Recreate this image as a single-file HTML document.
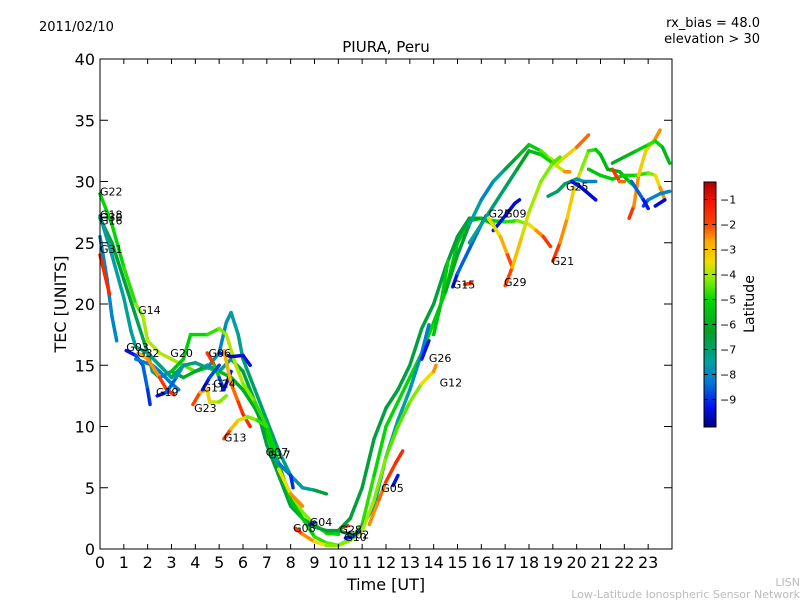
<!DOCTYPE html>
<html><head><meta charset="utf-8"><style>
body{margin:0;background:#fff;}
svg{display:block;font-family:"DejaVu Sans","Liberation Sans",sans-serif;}
</style></head><body>
<svg id="chart" width="800" height="600">
<text x="39" y="31" font-size="13">2011/02/10</text>
<text x="760" y="27" font-size="13" text-anchor="end">rx_bias = 48.0</text>
<text x="760" y="43" font-size="13" text-anchor="end">elevation &gt; 30</text>
<text x="386" y="52" font-size="15" text-anchor="middle">PIURA, Peru</text>
<text x="386" y="590" font-size="16" text-anchor="middle">Time [UT]</text>
<text x="66" y="304" font-size="16" text-anchor="middle" transform="rotate(-90 66 304)">TEC [UNITS]</text>
<text x="800" y="586" font-size="11" fill="#bbb" text-anchor="end">LISN</text>
<text x="800" y="598" font-size="11" fill="#bbb" text-anchor="end">Low-Latitude Ionospheric Sensor Network</text>
<defs><linearGradient id="cmap" x1="0" y1="1" x2="0" y2="0"></linearGradient></defs>
<g id="plot"></g>
<rect x="100" y="59" width="572" height="490" fill="none" stroke="#000" stroke-width="1"/>
<g id="axes"></g>
<rect x="704" y="182" width="12" height="245" fill="url(#cmap)" stroke="#000" stroke-width="1"/>
<g id="cbar"></g>
<text x="754" y="304" font-size="14" text-anchor="middle" transform="rotate(-90 754 304)">Latitude</text>
</svg>
<script>
const xTicks=[0,1,2,3,4,5,6,7,8,9,10,11,12,13,14,15,16,17,18,19,20,21,22,23];
const yTicks=[0,5,10,15,20,25,30,35,40];
const cbTicks=[-1,-2,-3,-4,-5,-6,-7,-8,-9];
const latMin=-10.1, latMax=-0.3;
const cmapLat=[-10.1,-9.3,-8.3,-7.5,-6.3,-5.0,-4.2,-3.5,-2.7,-2.0,-1.0,-0.3];
const cmapCol=['#000080','#0010ee','#0078d8','#00a0a0','#00a028','#00d800','#88ee00','#eedd00','#ffaa00','#ff4400','#ee1100','#aa0000'];
// each track: times (UT hr), TEC values, latitude values
const trackTimes=[
[0,0.5,1,1.5,1.8,2,2.5,3,3.5,4,4.5,5,5.5,6,6.5,7,7.5,8,8.5,9,9.5,10],
[0,0.5,1,1.5,2,2.2,2.5,3,3.5,4,4.5,5,5.5,6,6.5,7,7.5,8,8.5,9,9.5,10,10.5],
[0,0.5,1,1.3,1.5,2,2.5,3,3.5,4,4.5,5,5.3,5.5,5.8,6,6.5,7,7.5,8,8.5,9,9.5],
[3,3.5,3.8,4.5,5,5.3,5.7,6,6.5,7,7.5,8,8.5,9,9.5,10,10.5,11,11.5,12,12.5,13,13.5,14,14.5,15,15.5,16,16.5,17,17.5,18,18.3,18.6,18.9],
[0,0.3,0.5,0.7],
[0,0.4],
[1.1,1.5,1.8,2,2.1],
[1.5,2.2,2.5,3,3.3],
[1.6,2,2.5,2.8,3.1],
[2.4,2.8,3.2,3.5],
[4.5,4.8,5,5.2,5.5],
[5,5.5,6,6.3],
[3.9,4.2,4.5,4.6,5,5.3],
[4.3,4.6,5],
[5.2,5.5,5.8,6,6.3],
[5.2,5.5,5.8,6.2,6.6,7],
[7.3,7.5,8,8.1],
[7.5,8,8.5],
[8.2,8.5,9,9.5,10,10.5,11],
[8.8,9],
[10.1,10.4],
[10.3,10.6,10.9,11.5,12,12.5,13,13.5,13.8],
[11.3,11.7,12,12.4,12.7],
[12.3,12.5],
[13.5,13.8],
[10,10.5,11,11.5,12,12.5,13,13.5,14,14.5,15,15.5,16,16.5],
[11,11.5,12,12.5,13,13.5,14,14.1],
[14,14.3,14.6],
[14.8,15,15.5,16,16.2],
[16.5,17,17.4,17.6],
[15.3,15.6],
[14.5,15,15.5,16,16.5,17,17.5,18,18.5,18.8,19.2,19.5,20,20.5],
[15.5,16,16.5,17,17.5,18,18.5,19,19.5,19.7],
[16.3,16.8,17.1,17.3],
[17,17.3,17.7,18,18.5,19,19.3],
[19,19.3,19.6,19.9,20.2,20.5,20.8,21,21.3,21.8,22.2,22.5],
[18.8,19.2,19.5,20,20.3,20.8],
[19.8,20.2,20.8],
[20.5,21,21.5,22,22.5,23,23.3,23.5,23.7],
[21.5,21.8,22],
[22.2,22.4,22.6,22.9,23.3,23.5],
[21.5,22,22.5,23,23.3,23.6,23.9],
[22.8,23,23.5,23.9],
[22.3,22.8,23],
[23.3,23.7]
];
const trackTec=[
[29,26.5,23,20,19,17,16,15.5,15,14.5,14.8,14.5,14,13,11.5,9.5,6.5,4.5,3,2,1.3,1.2],
[27,25,22,19,16,14.5,14,14.5,14,14.5,15,14.5,15.5,14.5,12,8.5,6,3.5,2.5,1.8,1.5,1.5,1.2],
[27.2,24,20.5,17.8,16.5,16,15,14,15,15.2,14.8,16,18.5,19.3,17.5,15.5,13,10.5,8,6,5,4.8,4.5],
[14.5,15.5,17.5,17.5,18,17.5,15,13.5,12,10,7,4,2.5,1,0.5,0.3,0.8,2,6,10,12,14,16,18.5,21,25,26.8,27,26.8,26.7,26.8,26.5,26,25.5,24.7],
[25.5,22,19,17],
[24,20.8],
[16.2,15.8,15,13,11.8],
[15.5,15,14.5,13.5,13],
[16,15.5,14,13,12.6],
[12.5,12.8,14,15],
[16,15,14,13,14.5],
[16,15.7,15.8,15],
[11.8,12.8,13,12,12,12.5],
[13,14,15],
[16.2,13.5,12,11,10],
[9,9.8,10.5,10.8,10.5,10],
[7.5,7,6,5],
[6.5,4.5,3.5],
[1.7,1.2,0.6,0.3,0.3,0.7,1.5],
[2,2.2],
[1.7,1.9],
[0.9,1,1.5,3.5,7.5,10.5,13,16,18.3],
[2,4,5.5,7,8],
[5.2,6],
[15.5,17],
[1.5,2.5,5,9,11.5,13,15,18,20,23,25.5,27,27,26.5],
[1.5,4,7.5,10,12,13.5,14.5,15],
[17.5,20,23.5],
[21.4,22.5,24.5,26.5,27.2],
[26,27.2,28.2,28.5],
[21.6,21.7],
[21,24,26.5,28.5,30,31,32,33,32.5,32,31.5,32,32.8,33.8],
[25,26.5,28,29.5,31,32.5,32.2,31.5,30.8,30.8],
[27,25.5,24,23],
[21.5,23,25.5,27.5,30,31.5,32],
[23.5,25,27,29.5,31,32.5,32.6,32.2,31,30.8,30,29.5],
[28.8,29.2,29.8,30.2,30,30],
[30,29.5,28.5],
[31,30.5,30.2,30.5,30.5,30.7,30.5,29.5,28.5],
[31,30,30],
[27,28,30.5,32.5,33.5,34.2],
[31.5,32,32.5,33,33.3,32.8,31.5],
[28,28.5,29,29.2],
[30,28.5,27.8],
[28,28.5]
];
const trackLat=[
[-5,-5,-5,-4.5,-4,-4,-3.8,-4,-4,-5,-5,-5.5,-6,-6,-6,-5.5,-5,-4.5,-4,-4.5,-5,-5],
[-6.5,-6.5,-6.5,-6.5,-7,-7.5,-7,-6.5,-6,-6,-7,-7.5,-7,-6.5,-6.5,-6.5,-6.5,-6.5,-6.5,-6.5,-6.5,-6.5,-6.5],
[-7.5,-7.5,-7.5,-7.5,-7.3,-7,-7.5,-7,-7,-7,-7.5,-8,-8,-7.5,-7.5,-7,-7,-7,-7,-7.5,-7.8,-7,-6],
[-5.5,-5.5,-5,-5,-4.5,-4,-3.8,-4,-4.5,-5,-5,-5.5,-5.5,-5,-4.5,-4.5,-4.5,-4.5,-5,-5,-5,-5,-5,-5,-5.5,-5.5,-5.5,-5.5,-5,-5,-4.5,-4,-3,-2,-1.5],
[-8,-8,-8,-8],
[-1.5,-1.5],
[-9.5,-9,-8.5,-8.5,-9.5],
[-8.5,-8,-8,-8.5,-8],
[-2.5,-3,-2,-1.5,-1.5],
[-9.5,-9,-8,-7.5],
[-1.5,-2,-8,-9.5,-9],
[-9,-9.5,-9.5,-9.3],
[-1.5,-2.5,-3,-3.5,-4,-4.5],
[-9.5,-9,-8.5],
[-3,-2.5,-2,-1.5,-1.5],
[-1.5,-2.5,-3.5,-4,-4.5,-5],
[-7,-8,-8.5,-9.5],
[-4,-3,-2],
[-1.5,-2,-3,-4,-4.5,-4,-4],
[-9.5,-9],
[-1.5,-1.5],
[-9.5,-9,-8,-8,-7.5,-7.5,-7.5,-8,-8.5],
[-2.5,-2.5,-2,-1.5,-1.5],
[-9.5,-9],
[-9.5,-9],
[-6.5,-6.5,-6.5,-6.5,-6.5,-6.5,-6.5,-6.5,-6.5,-6.5,-6.5,-6.5,-6,-5.5],
[-4,-4,-4.5,-4.5,-4.5,-4,-3,-2],
[-5.5,-5.5,-5],
[-9.5,-9,-8,-9,-9.5],
[-9,-9.5,-9.5,-9.5],
[-1.5,-2],
[-6,-6,-7,-8,-8,-7,-6,-5.5,-5,-4,-4,-3.5,-3,-1.5],
[-7.5,-7.5,-7,-7,-6.5,-6,-5.5,-4.5,-3,-2],
[-4,-3,-2.5,-1.5],
[-1.5,-2.5,-3.5,-4,-4,-4.5,-4.5],
[-1.5,-2,-3,-3.5,-4,-4.5,-5,-5.5,-6,-6,-5.5,-4.5],
[-7,-7,-6.5,-7.5,-8,-8],
[-9,-9.5,-9.5],
[-6,-5,-5.5,-5,-5,-4.5,-4,-3,-2],
[-1.5,-2,-2.5],
[-1.5,-2,-3,-3.5,-3,-2],
[-6,-6,-5.5,-5,-4.5,-5.5,-6],
[-9.5,-8,-8,-8],
[-8,-9,-9.5],
[-9.5,-9.5]
];
const labelNames=["G22","G18","G30","G16","G31","G14","G03","G32","G20","G06","G19","G11","G24","G23","G13","G07","G17","G08","G04","G28","G02","G10","G05","G26","G12","G15","G29","G27","G09","G21","G25"];
const labelT=[0,0,0,0,0,1.6,1.1,1.55,2.95,4.55,2.35,4.3,4.75,3.95,5.2,6.95,7.05,8.1,8.8,10.05,10.35,10.25,11.8,13.8,14.25,14.8,16.95,16.3,16.95,18.95,19.55];
const labelV=[29.2,27.3,27.1,26.8,24.5,19.5,16.5,16.0,16.0,16.0,12.8,13.2,13.5,11.5,9.1,7.9,7.7,1.7,2.2,1.6,1.2,1.0,5.0,15.6,13.6,21.6,21.8,27.4,27.4,23.5,29.6];
const NS='http://www.w3.org/2000/svg';
const X0=100,X1=672,Y0=549,Y1=59;
function xs(t){return X0+t*(X1-X0)/24.0;}
function ys(v){return Y0-v*(Y0-Y1)/40;}
function hex(c){return [1,3,5].map(i=>parseInt(c.substr(i,2),16));}
function cmap(lat){
 if(lat<=cmapLat[0])return cmapCol[0];
 for(let i=0;i<cmapLat.length-1;i++){
  if(lat<=cmapLat[i+1]){const f=(lat-cmapLat[i])/(cmapLat[i+1]-cmapLat[i]);
   const a=hex(cmapCol[i]),b=hex(cmapCol[i+1]);
   return 'rgb('+a.map((v,k)=>Math.round(v+(b[k]-v)*f)).join(',')+')';}
 }
 return cmapCol[cmapCol.length-1];
}
function mk(tag,attrs,parent){const e=document.createElementNS(NS,tag);for(const k in attrs)e.setAttribute(k,attrs[k]);parent.appendChild(e);return e;}
const grad=document.getElementById('cmap');
cmapLat.forEach((l,i)=>mk('stop',{offset:(l-latMin)/(latMax-latMin),'stop-color':cmapCol[i]},grad));
const plot=document.getElementById('plot');
for(let i=0;i<trackTimes.length;i++){
 const g=mk('g',{},plot);
 
 
 const T=trackTimes[i],V=trackTec[i],L=trackLat[i];
 for(let j=0;j<T.length-1;j++){
  const seg=mk('line',{x1:xs(T[j]),y1:ys(V[j]),x2:xs(T[j+1]),y2:ys(V[j+1]),stroke:cmap((L[j]+L[j+1])/2),'stroke-width':3.5,'stroke-linecap':'round'},g);
  
  
 }
}
for(let i=0;i<labelNames.length;i++){
 const t=mk('text',{x:xs(labelT[i]),y:ys(labelV[i])+4,'font-size':11},plot);
 t.textContent=labelNames[i];
 
 
}
const ax=document.getElementById('axes');
xTicks.forEach(v=>{const x=xs(v);
 mk('line',{x1:x,y1:Y0,x2:x,y2:Y0-5,stroke:'#000'},ax);
 mk('line',{x1:x,y1:Y1,x2:x,y2:Y1+5,stroke:'#000'},ax);
 const t=mk('text',{x:x,y:568,'font-size':16,'text-anchor':'middle'},ax);t.textContent=v;
 
 
});
yTicks.forEach(v=>{const y=ys(v);
 mk('line',{x1:X0,y1:y,x2:X0+8,y2:y,stroke:'#000'},ax);
 mk('line',{x1:X1,y1:y,x2:X1-8,y2:y,stroke:'#000'},ax);
 const t=mk('text',{x:95,y:y+6,'font-size':16,'text-anchor':'end'},ax);t.textContent=v;
 
 
});
const cb=document.getElementById('cbar');
cbTicks.forEach(v=>{const y=182+(latMax-v)/(latMax-latMin)*245;
 mk('line',{x1:704,y1:y,x2:708,y2:y,stroke:'#000'},cb);
 mk('line',{x1:716,y1:y,x2:712,y2:y,stroke:'#000'},cb);
 const t=mk('text',{x:720,y:y+4,'font-size':11},cb);t.textContent='\u2212'+Math.abs(v);
 
 
});
</script>
</body></html>
